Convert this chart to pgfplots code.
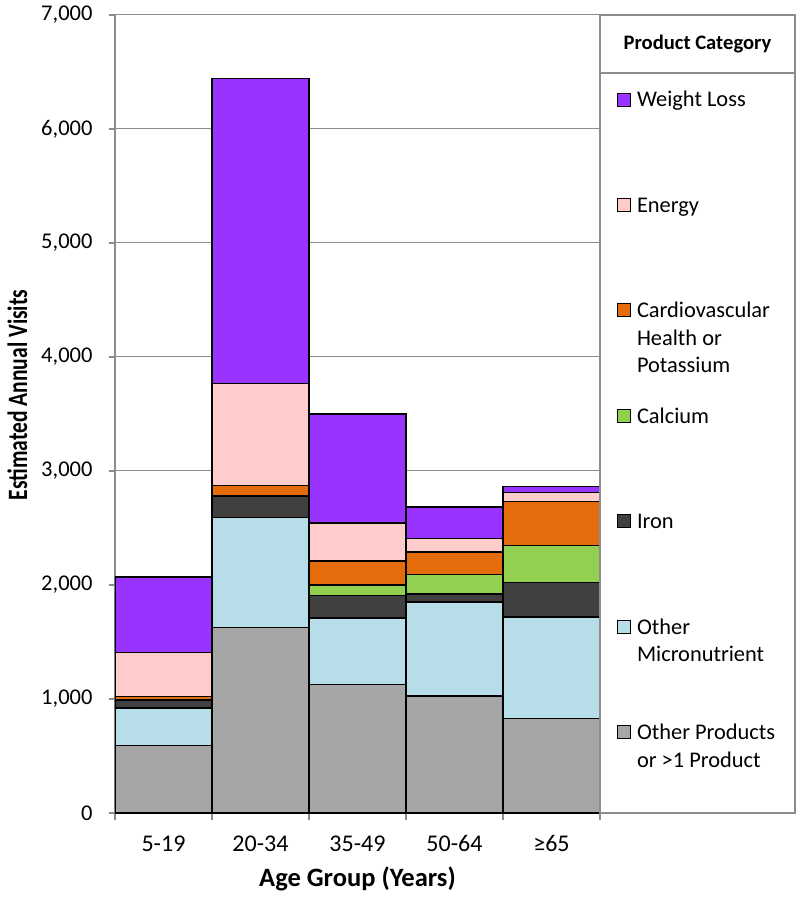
\documentclass[border=0pt]{standalone}
\usepackage{fontspec}
\setmainfont{Carlito}
\usepackage{graphicx}
\usepackage{pgfplots}
\pgfplotsset{compat=1.18}
\definecolor{cWL}{HTML}{9933FF}
\definecolor{cEN}{HTML}{FFCCCC}
\definecolor{cCV}{HTML}{E46C0A}
\definecolor{cCA}{HTML}{92D050}
\definecolor{cFE}{HTML}{404040}
\definecolor{cMI}{HTML}{B7DEE8}
\definecolor{cOT}{HTML}{A6A6A6}
\definecolor{gridgray}{HTML}{8C8C8C}

% legend rows: fixed height box, baseline at its bottom, square drawn at first line
\pgfplotsset{
  leg/.style={legend image code/.code={\draw[##1,draw=black,line width=1bp] (0bp,85.5bp) rectangle (13bp,98.5bp);}},
}
\newcommand{\lentry}[1]{\parbox[b][104bp][t]{150bp}{\strut #1}}

\begin{document}
\begin{tikzpicture}
\begin{axis}[
  scale only axis,
  width=485bp, height=798bp,
  ybar stacked, bar width=1,
  xmin=0.5, xmax=5.5, ymin=0, ymax=7000,
  xtick={1,...,5},
  xticklabels={5-19,20-34,35-49,50-64,≥65},
  minor xtick={0.5,1.5,...,5.5},
  major x tick style={draw=none},
  ytick={0,1000,...,7000},
  ymajorgrids,
  grid style={gridgray, line width=1bp},
  axis x line*=bottom, axis y line*=left,
  axis line style={gridgray, line width=1.2bp},
  tick style={gridgray, line width=1.2bp},
  tick align=outside,
  major tick length=6bp, minor tick length=7bp,
  xticklabel style={font=\fontsize{24bp}{28bp}\selectfont, yshift=-13bp},
  yticklabel style={font=\fontsize{22.5bp}{26bp}\selectfont, xshift=-13bp},
  /pgf/number format/assume math mode=true,
  /pgf/number format/1000 sep={,},
  scaled y ticks=false,
  ylabel={\scalebox{0.77}[1]{Estimated Annual Visits}},
  xlabel={Age Group (Years)},
  xlabel style={font=\bfseries\fontsize{26.5bp}{30bp}\selectfont, yshift=-8bp},
  ylabel style={font=\bfseries\fontsize{28bp}{32bp}\selectfont, yshift=7bp, xshift=19bp},
  every axis plot/.append style={draw=black, line width=1.3bp},
  reverse legend,
  legend style={at={(rel axis cs:1,1)}, anchor=north west, xshift=17bp, yshift=-72.5bp,
    draw=none, fill=none, inner sep=0pt, outer sep=0pt, row sep=0pt, column sep=6bp,
    cells={anchor=base west},
    nodes={inner sep=0pt, outer sep=0pt},
    font=\fontsize{22.4bp}{27.5bp}\selectfont},
]
\addplot[fill=cOT, leg] coordinates {(1,590) (2,1630) (3,1125) (4,1025) (5,830)};
\addlegendentry{\lentry{Other Products\\or >1 Product}}
\addplot[fill=cMI, leg] coordinates {(1,330) (2,965) (3,585) (4,825) (5,890)};
\addlegendentry{\lentry{Other\\Micronutrient}}
\addplot[fill=cFE, leg] coordinates {(1,70) (2,185) (3,200) (4,70) (5,300)};
\addlegendentry{\lentry{Iron}}
\addplot[fill=cCA, leg] coordinates {(1,0) (2,5) (3,90) (4,170) (5,325)};
\addlegendentry{\lentry{Calcium}}
\addplot[fill=cCV, leg] coordinates {(1,30) (2,85) (3,210) (4,200) (5,385)};
\addlegendentry{\lentry{Cardiovascular\\Health or\\Potassium}}
\addplot[fill=cEN, leg] coordinates {(1,390) (2,895) (3,335) (4,115) (5,80)};
\addlegendentry{\lentry{Energy}}
\addplot[fill=cWL, leg] coordinates {(1,660) (2,2675) (3,955) (4,280) (5,55)};
\addlegendentry{\lentry{Weight Loss}}
\coordinate (sw) at (rel axis cs:0,0);
\coordinate (se) at (rel axis cs:1,0);
\coordinate (ne) at (rel axis cs:1,1);
\end{axis}
\draw[gridgray, line width=1.2bp] (se) rectangle ([xshift=195bp]ne);
\draw[gridgray, line width=1.2bp] ([yshift=-58bp]ne) -- ([xshift=195bp,yshift=-58bp]ne);
\node[font=\bfseries\fontsize{20.6bp}{24bp}\selectfont] at ([xshift=97.5bp,yshift=-29bp]ne) {Product Category};
\pgfresetboundingbox
\path ([shift={(-115bp,-87bp)}]sw) rectangle ([shift={(685bp,813bp)}]sw);
\end{tikzpicture}
\end{document}
